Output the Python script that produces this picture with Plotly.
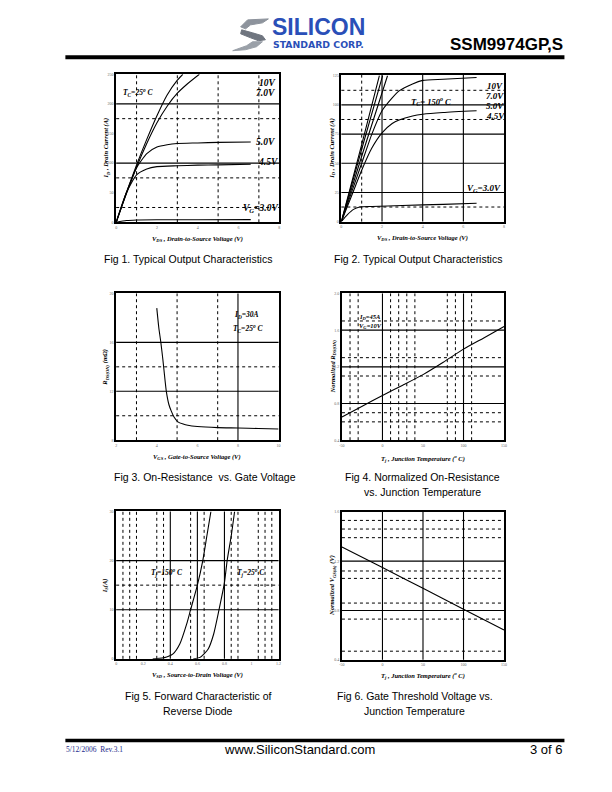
import plotly.graph_objects as go

W, H = 612, 792
def px(x): return x / W
def py(y): return 1 - y / H

# ---------------- DATA ----------------
# Fig 1 (Tc=25C) output characteristics: Vds (V), Id (A)
f1_10v_x = [0, 0.5, 1.0, 1.5, 2.0, 2.5, 3.0, 3.27]
f1_10v_y = [0, 50, 97, 140, 180, 215, 240, 250]
f1_7v_x = [0, 0.5, 1.0, 1.5, 2.0, 2.5, 3.0, 3.5, 4.08]
f1_7v_y = [0, 48, 93, 133, 168, 196, 218, 234, 250]
f1_5v_x = [0, 0.5, 1.0, 1.5, 2.0, 2.5, 3.0, 4.0, 5.0, 6.6]
f1_5v_y = [0, 50, 92, 116, 127, 131, 133, 134, 135, 135.5]
f1_45v_x = [0, 0.5, 1.0, 1.5, 2.0, 3.0, 4.0, 5.0, 6.6]
f1_45v_y = [0, 50, 80, 90, 94, 95.5, 96.5, 97, 98]
f1_3v_x = [0, 0.5, 1.0, 2.0, 4.0, 6.6]
f1_3v_y = [0, 3, 4, 4.3, 4.3, 4.5]

# Fig 2 (Tc=150C)
f2_10v_x = [0, 1.0, 1.87]
f2_10v_y = [0, 66, 125]
f2_7v_x = [0, 1.0, 2.03]
f2_7v_y = [0, 62, 125]
f2_6v_x = [0, 1.0, 2.27]
f2_6v_y = [0, 56, 125]
f2_5v_x = [0, 0.5, 1.0, 1.5, 2.0, 2.5, 2.84, 3.5, 4.0, 5.0, 6.65]
f2_5v_y = [0, 25, 50, 75, 95, 106, 112, 118, 121, 122, 123.5]
f2_45v_x = [0, 0.5, 1.0, 1.5, 2.0, 2.5, 2.84, 3.5, 4.0, 5.0, 6.65]
f2_45v_y = [0, 22, 44, 63, 76, 84, 87, 90.5, 92, 93.5, 95]
f2_3v_x = [0, 0.3, 0.6, 0.9, 1.5, 3.0, 5.0, 6.65]
f2_3v_y = [0, 6, 10.5, 12.5, 13, 13.8, 14.8, 15.7]

# Fig 3 On-resistance vs gate voltage
f3_vgs = [4.0, 4.1, 4.2, 4.3, 4.47, 4.6, 4.71, 4.85, 5.04, 5.3, 5.53, 6.0, 7.0, 8.0, 9.0, 10.0]
f3_rds = [18.8, 17.2, 16.0, 14.6, 12.0, 10.9, 10.4, 9.9, 9.5, 9.32, 9.22, 9.12, 9.03, 9.0, 8.96, 8.92]

# Fig 4 Normalized Rds(on) vs Tj
f4_tj = [-50, -25, 0, 25, 50, 75, 100, 125, 150]
f4_r = [0.653, 0.77, 0.888, 1.0, 1.115, 1.25, 1.393, 1.515, 1.639]

# Fig 5 Reverse diode
f5_150_v = [0.27, 0.35, 0.42, 0.47, 0.52, 0.55, 0.60, 0.64, 0.67, 0.70]
f5_150_i = [0, 0.2, 1, 3, 7, 10, 15, 20, 25, 30]
f5_25_v = [0.57, 0.62, 0.68, 0.72, 0.76, 0.80, 0.82, 0.85, 0.875]
f5_25_i = [0, 0.3, 2, 5, 10, 15.5, 20, 25, 30]

# Fig 6 Normalized Vgs(th) vs Tj
f6_tj = [-50, 0, 50, 100, 150]
f6_v = [1.315, 1.148, 0.98, 0.81, 0.642]

# Axis tick labels
f1_xt = [0, 2, 4, 6, 8]; f1_yt = [0, 50, 100, 150, 200, 250]
f2_xt = [0, 2, 4, 6, 8]; f2_yt = [0, 25, 50, 75, 100, 125]
f3_xt = [2, 4, 6, 8, 10]; f3_yt = [8, 12, 16, 20]
f4_xt = [-50, 0, 50, 100, 150]; f4_yt = [0.4, 0.8, 1.2, 1.6, 2.0]
f5_xt = [0, 0.2, 0.4, 0.6, 0.8, 1, 1.2]; f5_yt = [0, 10, 20, 30]
f6_xt = [-50, 0, 50, 100, 150]; f6_yt = [0.4, 0.8, 1.2, 1.6]

# Grid lines (solid / dashed) per figure
grids = {
    1: dict(xs=[], xd=[1, 3, 5, 7], ys=[100, 200], yd=[25, 75, 175]),
    2: dict(xs=[2, 4, 6], xd=[1], ys=[25, 50, 75, 100], yd=[12.5, 87.5, 112.5]),
    3: dict(xs=[8], xd=[3, 5, 7], ys=[12, 16], yd=[10, 14]),
    4: dict(xs=[0, 100], xd=[-40, -30, 10, 20, 30, 40, 80, 90, 110],
            ys=[0.8, 1.2, 1.6], yd=[0.6, 0.7, 1.1, 1.3, 1.7]),
    5: dict(xs=[0.4, 0.6, 0.8], xd=[0.05, 0.1, 0.15, 0.3, 0.35, 0.55, 0.65, 0.85, 0.9, 1.05, 1.1, 1.15],
            ys=[10, 20], yd=[15]),
    6: dict(xs=[0, 50, 100], xd=[], ys=[0.8, 1.2], yd=[0.47, 0.73, 0.86, 1.06, 1.12, 1.39, 1.46, 1.53]),
}

# ---------------- LAYOUT GEOMETRY ----------------
boxes = {  # left, right, top, bottom in page px
    1: (114.3, 279.0, 71.7, 220.7),
    2: (341.7, 506.0, 72.0, 220.0),
    3: (114.3, 278.3, 292.3, 440.0),
    4: (342.3, 506.0, 292.3, 440.0),
    5: (114.3, 278.3, 511.7, 660.0),
    6: (342.3, 506.0, 512.0, 661.0),
}
ranges = {
    1: ([0, 8], [0, 250], f1_xt, f1_yt),
    2: ([0, 8], [0, 126], f2_xt, f2_yt),
    3: ([2, 10], [8, 20], f3_xt, f3_yt),
    4: ([-50, 150], [0.4, 2.0], f4_xt, f4_yt),
    5: ([0, 1.2], [0, 30], f5_xt, f5_yt),
    6: ([-50, 150], [0.4, 1.6], f6_xt, f6_yt),
}

def xn(i): return "x" if i == 1 else f"x{i}"
def yn(i): return "y" if i == 1 else f"y{i}"

fig = go.Figure()
LW = 1.1

def add(i, xs, ys):
    fig.add_trace(go.Scatter(x=xs, y=ys, mode="lines", xaxis=xn(i), yaxis=yn(i),
                             line=dict(color="black", width=LW, shape="spline", smoothing=0.6),
                             showlegend=False, hoverinfo="skip"))

for xs, ys in [(f1_10v_x, f1_10v_y), (f1_7v_x, f1_7v_y), (f1_5v_x, f1_5v_y),
               (f1_45v_x, f1_45v_y), (f1_3v_x, f1_3v_y)]:
    add(1, xs, ys)
for xs, ys in [(f2_10v_x, f2_10v_y), (f2_7v_x, f2_7v_y), (f2_6v_x, f2_6v_y),
               (f2_5v_x, f2_5v_y), (f2_45v_x, f2_45v_y), (f2_3v_x, f2_3v_y)]:
    add(2, xs, ys)
add(3, f3_vgs, f3_rds)
add(4, f4_tj, f4_r)
add(5, f5_150_v, f5_150_i)
add(5, f5_25_v, f5_25_i)
add(6, f6_tj, f6_v)

layout = dict(width=W, height=H, autosize=False, margin=dict(l=0, r=0, t=0, b=0),
              paper_bgcolor="white", plot_bgcolor="white", showlegend=False)
shapes = []
for i in range(1, 7):
    l, r, t, b = boxes[i]
    xr, yr, xt, yt = ranges[i]
    sfx = "" if i == 1 else str(i)
    layout[f"xaxis{sfx}"] = dict(domain=[px(l), px(r)], range=xr, anchor=yn(i),
                                 showline=True, linecolor="black", linewidth=1.6, mirror=True,
                                 showgrid=False, zeroline=False, ticks="", tickvals=xt,
                                 ticktext=[str(v) for v in xt],
                                 tickfont=dict(size=4, color="#666", family="Liberation Serif"))
    layout[f"yaxis{sfx}"] = dict(domain=[py(b), py(t)], range=yr, anchor=xn(i),
                                 showline=True, linecolor="black", linewidth=1.6, mirror=True,
                                 showgrid=False, zeroline=False, ticks="", tickvals=yt,
                                 ticktext=[str(v) for v in yt],
                                 tickfont=dict(size=4, color="#666", family="Liberation Serif"))
    g = grids[i]
    for v in g["xs"]:
        shapes.append(dict(type="line", xref=xn(i), yref=f"{yn(i)} domain", x0=v, x1=v, y0=0, y1=1,
                           line=dict(color="black", width=1.1)))
    for v in g["xd"]:
        shapes.append(dict(type="line", xref=xn(i), yref=f"{yn(i)} domain", x0=v, x1=v, y0=0, y1=1,
                           line=dict(color="black", width=1, dash="3px,3px")))
    for v in g["ys"]:
        shapes.append(dict(type="line", yref=yn(i), xref=f"{xn(i)} domain", y0=v, y1=v, x0=0, x1=1,
                           line=dict(color="black", width=1.1)))
    for v in g["yd"]:
        shapes.append(dict(type="line", yref=yn(i), xref=f"{xn(i)} domain", y0=v, y1=v, x0=0, x1=1,
                           line=dict(color="black", width=1, dash="3px,3px")))

# header / footer bars
shapes.append(dict(type="rect", xref="paper", yref="paper", x0=px(63), x1=px(567), y0=py(56.5), y1=py(52.5),
                   fillcolor="black", line=dict(width=0)))
shapes.append(dict(type="rect", xref="paper", yref="paper", x0=px(63), x1=px(567), y0=py(744), y1=py(740.5),
                   fillcolor="black", line=dict(width=0)))

# logo swoosh
def path(points):
    return "M " + " L ".join(f"{px(x):.5f},{py(y):.5f}" for x, y in points) + " Z"
sw1 = [(247, 17), (268, 16), (262, 20), (250, 22), (245, 26), (240, 24)]
sw2 = [(241, 27), (252, 30), (262, 33), (265, 37), (258, 38), (250, 35), (240, 31)]
sw3 = [(262, 39), (256, 44), (245, 47), (232, 48), (246, 43), (252, 39)]
for pts, c in [(sw1, "#8d939c"), (sw2, "#6f757f"), (sw3, "#9aa0a8")]:
    shapes.append(dict(type="path", xref="paper", yref="paper", path=path(pts),
                       fillcolor=c, line=dict(color=c, width=1)))
layout["shapes"] = shapes

ann = []
def T(x, y, text, size, family="Liberation Sans", color="black", xanchor="center", angle=0):
    ann.append(dict(x=px(x), y=py(y), xref="paper", yref="paper", text=text, showarrow=False,
                    font=dict(size=size, family=family, color=color), xanchor=xanchor,
                    yanchor="middle", textangle=angle, borderpad=0))

def D(i, x, y, text, size=8.5, xanchor="left"):
    ann.append(dict(x=x, y=y, xref=xn(i), yref=yn(i), text=f"<b><i>{text}</i></b>", showarrow=False,
                    font=dict(size=size, family="Liberation Serif", color="black"),
                    xanchor=xanchor, yanchor="middle"))

# header
T(271, 24.5, "<b>SILICON</b>", 23, color="#2a4fb8", xanchor="left")
T(272, 41.5, "<b>STANDARD CORP.</b>", 9.3, family="DejaVu Sans", color="#2a4fb8", xanchor="left")
T(567, 42, "<b>SSM9974GP,S</b>", 17, xanchor="right")

# footer
T(63, 751, "5/12/2006  Rev.3.1", 7.5, family="Liberation Serif", color="#1c2a8a", xanchor="left")
T(299, 751, "www.SiliconStandard.com", 13)
T(567, 751, "3 of 6", 13, xanchor="right")

# captions
T(187, 258, "Fig 1. Typical Output Characteristics", 10.5)
T(419, 258, "Fig 2. Typical Output Characteristics", 10.5)
T(204, 477, "Fig 3. On-Resistance  vs. Gate Voltage", 10.5)
T(424, 477, "Fig 4. Normalized On-Resistance", 10.5)
T(424, 492, "vs. Junction Temperature", 10.5)
T(197, 697, "Fig 5. Forward Characteristic of", 10.5)
T(197, 712, "Reverse Diode", 10.5)
T(416, 697, "Fig 6. Gate Threshold Voltage vs.", 10.5)
T(416, 712, "Junction Temperature", 10.5)

# axis titles
ser = "Liberation Serif"
def bi(s): return f"<b><i>{s}</i></b>"
T(196, 238, bi("V<sub>DS</sub> , Drain-to-Source Voltage (V)"), 6.5, family=ser)
T(424, 236.5, bi("V<sub>DS</sub> , Drain-to-Source Voltage (V)"), 6.5, family=ser)
T(196, 457, bi("V<sub>GS</sub> , Gate-to-Source Voltage (V)"), 6.5, family=ser)
T(424, 458, bi("T<sub>j</sub> , Junction Temperature (<sup>o</sup> C)"), 6.5, family=ser)
T(196, 676, bi("V<sub>SD</sub> , Source-to-Drain Voltage (V)"), 6.5, family=ser)
T(424, 677, bi("T<sub>j</sub> , Junction Temperature (<sup>o</sup> C)"), 6.5, family=ser)

T(104.5, 146, bi("I<sub>D</sub> , Drain Current (A)"), 6.5, family=ser, angle=-90)
T(332, 146, bi("I<sub>D</sub> , Drain Current (A)"), 6.5, family=ser, angle=-90)
T(103, 366, bi("R<sub>DS(ON)</sub> (mΩ)"), 6.5, family=ser, angle=-90)
T(333, 366, bi("Normalized R<sub>DS(ON)</sub>"), 6.5, family=ser, angle=-90)
T(103, 586, bi("I<sub>S</sub>(A)"), 6.5, family=ser, angle=-90)
T(333, 586, bi("Normalized V<sub>GS(th)</sub> (V)"), 6.5, family=ser, angle=-90)

# in-plot labels
D(1, 0.25, 219, "T<sub>C</sub>=25<sup>o</sup> C", 7.5)
D(1, 6.9, 236, "10V", 9.5)
D(1, 6.75, 219, "7.0V", 9.5)
D(1, 6.75, 135, "5.0V", 9.5)
D(1, 6.85, 102, "4.5V", 9.5)
D(1, 6.1, 23, "V<sub>G</sub>=3.0V", 9.5)

D(2, 7.05, 116, "10V", 9)
D(2, 7.0, 107.5, "7.0V", 9)
D(2, 7.0, 99, "5.0V", 9)
D(2, 7.0, 90.5, "4.5V", 9)
D(2, 3.35, 103, "T<sub>C</sub>= 150<sup>o</sup> C", 8.5)
D(2, 6.1, 28.5, "V<sub>G</sub>=3.0V", 9)

D(3, 7.7, 18.2, "I<sub>D</sub>=30A", 7.5)
D(3, 7.65, 17.1, "T<sub>C</sub>=25<sup>o</sup> C", 7.5)

D(4, -32, 1.74, "I<sub>D</sub>=45A", 6.5)
D(4, -32, 1.65, "V<sub>G</sub>=10V", 6.5)

D(5, 0.24, 17.5, "T<sub>j</sub>=150<sup>o</sup> C", 7.5)
D(5, 0.88, 17.5, "T<sub>j</sub>=25<sup>o</sup> C", 7.5)

layout["annotations"] = ann
fig.update_layout(**layout)
fig.write_html("out.html")
